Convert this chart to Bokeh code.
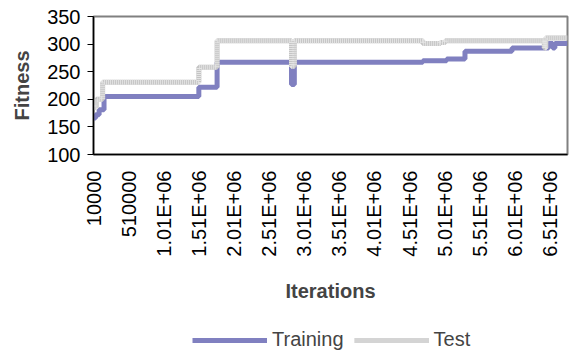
import math
from bokeh.plotting import figure
from bokeh.layouts import column
from bokeh.models import Range1d, FixedTicker, Legend, LegendItem
from bokeh.embed import file_html
from bokeh.resources import INLINE

# Best-so-far fitness, given at the iterations where it changes (step data)
train_iter = [10000, 40000, 90000, 160000, 1510000, 1770000, 2830000, 2870000,
              4700000, 5040000, 5300000, 5970000, 6490000, 6550000, 6580000, 6760000]
train_fit = [166, 172, 181, 205, 222, 267, 227, 267,
             270, 273, 287, 293, 301, 293, 301, 301]

test_iter = [10000, 50000, 140000, 1510000, 1770000, 2830000, 2870000,
             4700000, 4950000, 5020000, 6430000, 6450000, 6760000]
test_fit = [185, 200, 231, 258, 306, 260, 306,
            301, 303, 306, 293, 311, 311]

tick_iters = [10000, 510000, 1010000, 1510000, 2010000, 2510000, 3010000,
              3510000, 4010000, 4510000, 5010000, 5510000, 6010000, 6510000]
tick_labels = ["10000", "510000", "1.01E+06", "1.51E+06", "2.01E+06", "2.51E+06",
               "3.01E+06", "3.51E+06", "4.01E+06", "4.51E+06", "5.01E+06",
               "5.51E+06", "6.01E+06", "6.51E+06"]

series_names = ["Training", "Test"]

FONT = "Liberation Sans"
BLUE = "#8080c0"
GREY = "#c4c4c4"
GREY_LIGHT = "#e4e4e4"

p = figure(width=581, height=325, output_backend="svg", toolbar_location=None,
           x_range=Range1d(10000, 6760000), y_range=Range1d(100, 350),
           min_border_left=93, min_border_right=14, min_border_top=16,
           min_border_bottom=171)

p.xgrid.visible = False
p.ygrid.visible = False
p.outline_line_color = "#808080"
p.outline_line_width = 2
p.background_fill_color = "white"
p.border_fill_color = "white"

p.step(train_iter, train_fit, mode="after", line_color=BLUE, line_width=5)
p.step(test_iter, test_fit, mode="after", line_color=GREY, line_width=5)
p.step(test_iter, test_fit, mode="after", line_color=GREY_LIGHT,
       line_width=5, line_dash="1 1")

# y axis
p.yaxis.ticker = FixedTicker(ticks=[100, 150, 200, 250, 300, 350])
p.yaxis.axis_label = "Fitness"
p.yaxis.axis_label_text_font = FONT
p.yaxis.axis_label_text_font_size = "20px"
p.yaxis.axis_label_text_font_style = "bold"
p.yaxis.axis_label_standoff = 11
p.yaxis.major_label_text_font = FONT
p.yaxis.major_label_text_font_size = "20px"
p.yaxis.major_label_text_color = "black"
p.yaxis.major_tick_out = 6
p.yaxis.major_tick_in = 0
p.yaxis.minor_tick_out = 0
p.yaxis.minor_tick_in = 0
p.yaxis.major_label_standoff = 7
p.yaxis.axis_line_color = "black"
p.yaxis.axis_line_width = 1.5

# x axis
p.xaxis.ticker = FixedTicker(ticks=tick_iters)
p.xaxis.major_label_overrides = {t: l for t, l in zip(tick_iters, tick_labels)}
p.xaxis.major_label_orientation = math.pi / 2
p.xaxis.major_label_text_font = FONT
p.xaxis.major_label_text_font_size = "20px"
p.xaxis.major_label_text_color = "black"
p.xaxis.major_tick_out = 0
p.xaxis.major_tick_in = 0
p.xaxis.minor_tick_out = 0
p.xaxis.minor_tick_in = 0
p.xaxis.major_label_standoff = 16
p.xaxis.axis_label = "Iterations"
p.xaxis.axis_label_text_font = FONT
p.xaxis.axis_label_text_font_size = "20px"
p.xaxis.axis_label_text_font_style = "bold"
p.xaxis.axis_label_standoff = 20
p.xaxis.axis_line_color = "black"
p.xaxis.axis_line_width = 1.5

# legend strip below the chart (same series, outside this strip's visible range)
lg = figure(width=581, height=31, output_backend="svg", toolbar_location=None,
            x_range=Range1d(0, 1), y_range=Range1d(0, 1), min_border=0,
            x_axis_type=None, y_axis_type=None)
lg.xgrid.visible = False
lg.ygrid.visible = False
lg.outline_line_color = None
lg.background_fill_color = "white"
lg.border_fill_color = "white"
l_train = lg.step(train_iter, train_fit, mode="after", line_color=BLUE, line_width=5)
l_test = lg.step(test_iter, test_fit, mode="after", line_color=GREY, line_width=5)
l_test2 = lg.step(test_iter, test_fit, mode="after", line_color=GREY_LIGHT,
                  line_width=5, line_dash="1 1")

legend = Legend(items=[LegendItem(label=series_names[0], renderers=[l_train]),
                       LegendItem(label=series_names[1], renderers=[l_test, l_test2])],
                orientation="horizontal", location=(99, 5),
                glyph_width=75, glyph_height=20, label_standoff=5, spacing=10,
                label_text_font=FONT, label_text_font_size="20px",
                label_height=20, border_line_color=None,
                background_fill_alpha=0, padding=0, margin=0)
lg.add_layout(legend, "center")

layout = column(p, lg, spacing=0)
open("out.html", "w").write(file_html(layout, INLINE))
